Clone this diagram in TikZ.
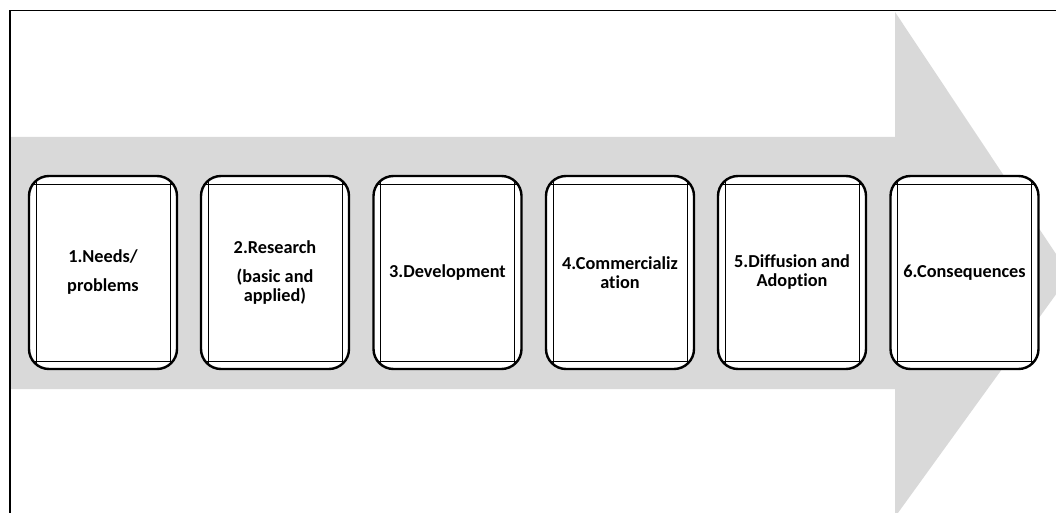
\documentclass[tikz,border=0pt]{standalone}
\usepackage{fontspec}
\setmainfont[Ligatures=NoCommon]{Carlito}
\definecolor{bandgray}{RGB}{217,217,217}

\begin{document}
\begin{tikzpicture}[x=0.75pt, y=-0.75pt, thick]
  \tikzset{
    stage/.style={draw, line width=1.8pt, rounded corners=15pt, fill=white,
      minimum width=111pt, minimum height=144.75pt, inner sep=0pt, align=center,
      font=\fontsize{13.7}{14.25}\selectfont\bfseries,
      path picture={
        \draw[line width=0.7pt]
          ([xshift=5.25pt]path picture bounding box.north west) -- ([xshift=5.25pt]path picture bounding box.south west)
          ([xshift=-5.25pt]path picture bounding box.north east) -- ([xshift=-5.25pt]path picture bounding box.south east)
          ([yshift=-6pt]path picture bounding box.north west) -- ([yshift=-6pt]path picture bounding box.north east)
          ([yshift=6pt]path picture bounding box.south west) -- ([yshift=6pt]path picture bounding box.south east);
      }}
  }
  \useasboundingbox (0,0) rectangle (1056,513);

  \coordinate (T) at (895,12);
  \coordinate (P) at (1070,275);
  \coordinate (B) at (895,517);
  \fill[bandgray] (11,137) -- (895,137) -- (T) -- (P) -- (B) -- (895,389) -- (11,389) -- cycle;
  \draw[line width=1.1pt] (10,513) -- (10,10.5) -- (1056,10.5);

  \node[stage] (needs)    at (103,272.5)   {1.Needs/\\[7.5pt]problems};
  \node[stage] (research) at (275,272.5)   {2.Research\\[7pt](basic and\\applied)};
  \node[stage] (devel)    at (447.5,272.5) {3.Development};
  \node[stage] (comm)     at (620,272.5)   {4.Commercializ\\ation};
  \node[stage] (diffus)   at (792,272.5)   {5.Diffusion and\\Adoption};
  \node[stage] (conseq)   at (964.5,272.5) {6.Consequences};
\end{tikzpicture}
\end{document}
